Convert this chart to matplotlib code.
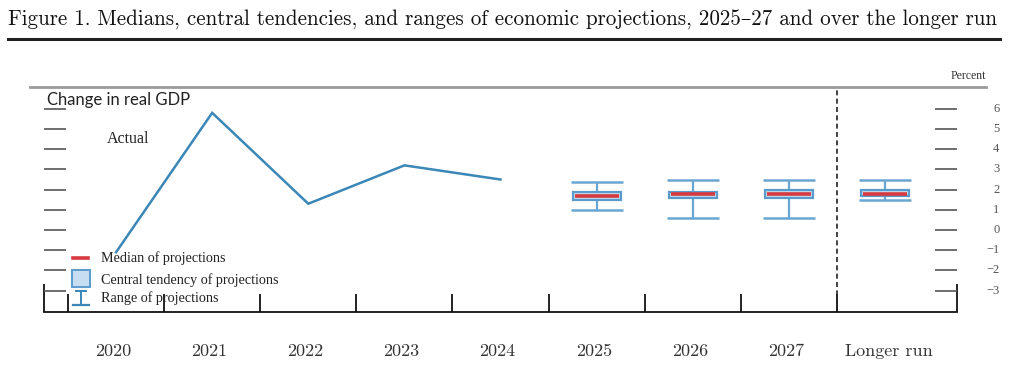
import matplotlib
matplotlib.use("Agg")
import matplotlib.pyplot as plt
from matplotlib.lines import Line2D
from matplotlib.patches import Rectangle

# ---------------- data ----------------
categories = ["2020", "2021", "2022", "2023", "2024", "2025", "2026", "2027", "Longer run"]
actual_years = ["2020", "2021", "2022", "2023", "2024"]
actual_values = [-1.1, 5.8, 1.3, 3.2, 2.5]
proj_labels = ["2025", "2026", "2027", "Longer run"]
proj_median = [1.7, 1.8, 1.8, 1.8]
proj_ct_low = [1.5, 1.6, 1.6, 1.7]
proj_ct_high = [1.9, 1.9, 2.0, 2.0]
proj_range_low = [1.0, 0.6, 0.6, 1.5]
proj_range_high = [2.4, 2.5, 2.5, 2.5]
yticks = [-3, -2, -1, 0, 1, 2, 3, 4, 5, 6]

# ---------------- style ----------------
W, H = 1024, 369
LINE_BLUE = "#3a87b8"
BOX_EDGE = "#5b9bcb"
BOX_FILL = "#c7ddf1"
RANGE_BLUE = "#6aa6d2"
MED_RED = "#d63a3f"
TXT = "#333333"

SERIF = ["Liberation Serif", "DejaVu Serif"]
CM = ["cmr10", "DejaVu Serif"]

def fx(x):
    return x / W

def fy(y):
    return 1 - y / H

fig = plt.figure(figsize=(W / 100, H / 100), dpi=100)
fig.patch.set_facecolor("white")

# axes region in pixels
x0, x1, y_top, y_bot = 44, 957, 87, 312
ax = fig.add_axes([fx(x0), fy(y_bot), (x1 - x0) / W, (y_bot - y_top) / H])
ax.set_xlim(-0.75, 8.75)
ax.set_ylim(-4.06, 7.08)
for s in ["top", "left", "right"]:
    ax.spines[s].set_visible(False)
ax.spines["bottom"].set_color("#111111")
ax.spines["bottom"].set_linewidth(1.3)

xpos = {c: i for i, c in enumerate(categories)}

# bottom ticks
ax.set_xticks([i - 0.5 for i in range(len(categories))])
ax.set_xticklabels([])
ax.set_xticks([-0.75, 8.75], minor=True)
ax.tick_params(axis="x", which="major", direction="in", length=13, width=1.3, color="#111111")
ax.tick_params(axis="x", which="minor", direction="in", length=20, width=1.3, color="#111111")
ax.set_yticks([])

# category labels
for c in categories:
    ax.text(xpos[c] + (0.04 if c == "Longer run" else -0.03), -0.173, c,
            transform=ax.get_xaxis_transform(), ha="center", va="center",
            fontsize=13, family=CM, color=TXT)

# left / right tick dashes
ax.hlines(yticks, -0.75, -0.52, color="#555555", lw=1.2)
ax.hlines(yticks, 8.52, 8.75, color="#555555", lw=1.2)
for v in yticks:
    lab = str(v) if v >= 0 else "\u2212" + str(-v)
    ax.annotate(lab, xy=(1.0, v), xycoords=("axes fraction", "data"),
                xytext=(30.5, 0), textcoords="offset points", ha="right", va="center",
                fontsize=9, family=SERIF, color="#555555")

# dashed separator
ax.axvline(7.5, color="#222222", lw=1.2, ls=(0, (3, 2)))

# actual line
ax.plot([xpos[y] for y in actual_years], actual_values, color=LINE_BLUE, lw=1.8,
        solid_joinstyle="miter", zorder=3)

# projections
bw = 0.5
for lab, med, cl, ch, rl, rh in zip(proj_labels, proj_median, proj_ct_low, proj_ct_high,
                                    proj_range_low, proj_range_high):
    x = xpos[lab]
    ax.vlines(x, rl, rh, color=RANGE_BLUE, lw=1.6, zorder=2)
    ax.hlines([rl, rh], x - 0.27, x + 0.27, color=RANGE_BLUE, lw=1.8, zorder=2)
    ax.add_patch(Rectangle((x - bw / 2, cl), bw, ch - cl, facecolor=BOX_FILL,
                           edgecolor=BOX_EDGE, lw=1.6, zorder=3))
    ax.hlines(med, x - bw / 2 + 0.02, x + bw / 2 - 0.02, color=MED_RED, lw=2.6, zorder=4)

# texts inside
fig.text(fx(47), fy(100), "Change in real GDP", ha="left", va="center",
         fontsize=12, family=["Lato", "DejaVu Sans"], color="#222222")
fig.text(fx(107), fy(139), "Actual", ha="left", va="center",
         fontsize=11.5, family=SERIF, color="#222222")

# legend (drawn manually)
fig.add_artist(Line2D([fx(73), fx(88)], [fy(258), fy(258)], color=MED_RED, lw=2.6))
fig.add_artist(Rectangle((fx(72), fy(287)), (90 - 72) / W, (287 - 270) / H,
                         facecolor=BOX_FILL, edgecolor=BOX_EDGE, lw=1.4,
                         transform=fig.transFigure))
fig.add_artist(Line2D([fx(81), fx(81)], [fy(291), fy(305)], color=LINE_BLUE, lw=1.4))
fig.add_artist(Line2D([fx(76), fx(86)], [fy(291), fy(291)], color=LINE_BLUE, lw=1.4))
fig.add_artist(Line2D([fx(73), fx(89)], [fy(305), fy(305)], color=LINE_BLUE, lw=1.6))
for yy, t in [(258, "Median of projections"), (280, "Central tendency of projections"),
              (298, "Range of projections")]:
    fig.text(fx(101), fy(yy), t, ha="left", va="center", fontsize=10.2,
             family=SERIF, color="#222222")

# top gray rule and Percent label
fig.add_artist(Line2D([fx(30), fx(986)], [fy(87), fy(87)], color="#9a9a9a", lw=2))
fig.text(fx(968), fy(76), "Percent", ha="center", va="center", fontsize=8.5,
         family=SERIF, color="#333333")

# title and rule
title = fig.text(fx(8), fy(20), "Figure 1. Medians, central tendencies, and ranges of economic "
                 "projections, 2025\u201327 and over the longer run",
                 ha="left", va="center", fontsize=13, family=CM, color="#111111")
fig.canvas.draw()
bb = title.get_window_extent()
target = 992
title.set_fontsize(13 * target / bb.width)
fig.add_artist(Line2D([fx(8), fx(1000)], [fy(39), fy(39)], color="#222222", lw=2.2))

fig.savefig("out.png", dpi=100, facecolor="white")
